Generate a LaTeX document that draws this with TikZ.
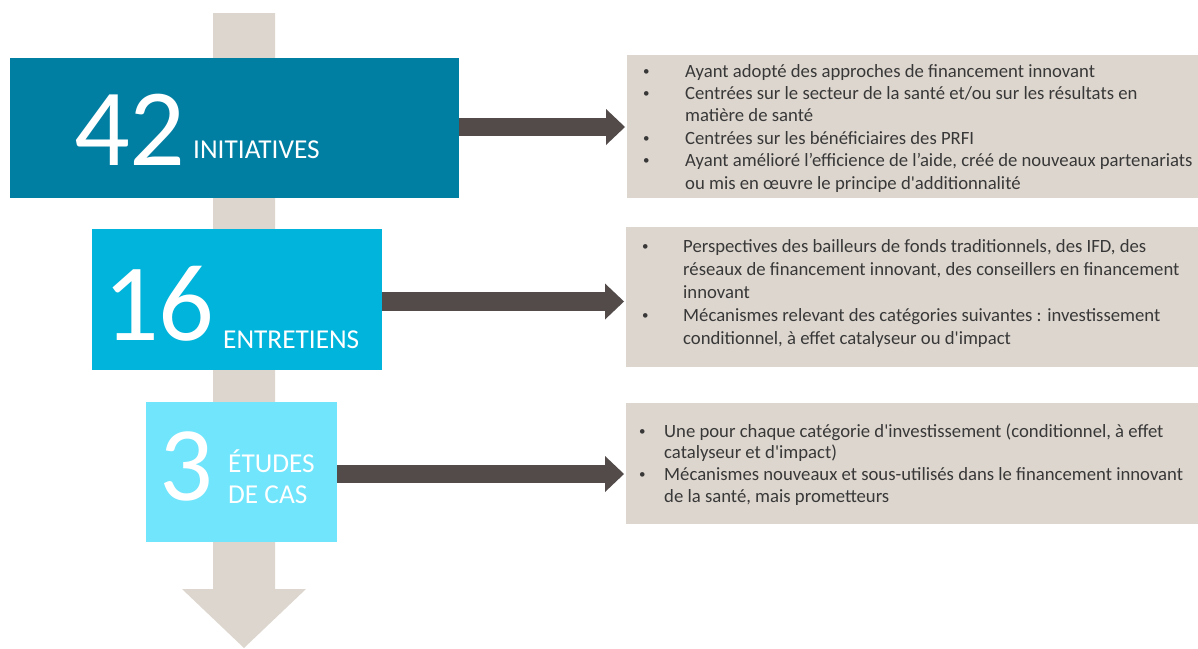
\documentclass[tikz,border=0pt]{standalone}
\usepackage{fontspec}
\setmainfont{Carlito}
\usetikzlibrary{arrows.meta}
\definecolor{tealA}{HTML}{007FA3}
\definecolor{tealB}{HTML}{00B4DB}
\definecolor{tealC}{HTML}{70E5FC}
\definecolor{sand}{HTML}{DDD6CE}
\definecolor{darrow}{HTML}{524B49}
\definecolor{txt}{HTML}{383838}
\newcommand{\dotmark}{\raisebox{1.8pt}{\fontsize{13}{13}\selectfont •}}
\begin{document}
\begin{tikzpicture}[x=1pt,y=-1pt,
  stage/.style={inner sep=0pt, outer sep=0pt, anchor=north west},
  infobox/.style={fill=sand, inner sep=0pt, outer sep=0pt, anchor=north west},
  bignum/.style={text=white, inner sep=0pt, anchor=base west, font=\fontsize{110}{110}\selectfont},
  caplabel/.style={text=white, inner sep=0pt, anchor=base west, font=\fontsize{27.3}{31}\selectfont, align=left},
  bullets/.style={text=txt, inner sep=0pt, anchor=base west},
  link/.style={draw=darrow, line width=18.5pt, -{Triangle[length=19pt,width=36pt,line width=0pt]}, shorten >=2pt}
]
\useasboundingbox (0,0) rectangle (1198,648);
% big background arrow
\fill[sand] (213,13) -- (275,13) -- (275,589) -- (306,589) -- (244,648) -- (182,589) -- (213,589) -- cycle;
% stage boxes
\node[stage, fill=tealA, minimum width=449pt, minimum height=140pt] (box1) at (10,58) {};
\node[stage, fill=tealB, minimum width=290pt, minimum height=141pt] (box2) at (92,229) {};
\node[stage, fill=tealC, minimum width=191pt, minimum height=140pt] (box3) at (146,402) {};
% numbers and labels
\node[bignum] (n1) at (74,165) {42};
\node[caplabel] (l1) at (193,158) {INITIATIVES};
\node[bignum] (n2) at (103,340) {16};
\node[caplabel] (l2) at (223,348) {ENTRETIENS};
\node[bignum, font=\fontsize{106}{106}\selectfont] (n3) at (159,500) {3};
\node[caplabel] (l3) at (228,503) {ÉTUDES\\DE CAS};
% info boxes
\node[infobox, minimum width=571pt, minimum height=143pt] (infoA) at (627,55) {};
\node[infobox, minimum width=572pt, minimum height=140pt] (infoB) at (626,227) {};
\node[infobox, minimum width=572pt, minimum height=121pt] (infoC) at (626,403) {};
% texts
\node[bullets] (tA) at (643,77) {\fontsize{18.7}{22.4}\selectfont
\begin{tabular}[t]{@{}p{42pt}@{}l@{}}
\dotmark& Ayant adopté des approches de financement innovant\\
\dotmark& Centrées sur le secteur de la santé et/ou sur les résultats en\\
 & matière de santé\\
\dotmark& Centrées sur les bénéficiaires des PRFI\\
\dotmark& Ayant amélioré l’efficience de l’aide, créé de nouveaux partenariats\\
 & ou mis en œuvre le principe d\textquotesingle additionnalité
\end{tabular}};
\node[bullets] (tB) at (642,252) {\fontsize{18.7}{23}\selectfont
\begin{tabular}[t]{@{}p{41pt}@{}l@{}}
\dotmark& Perspectives des bailleurs de fonds traditionnels, des IFD, des\\
 & réseaux de financement innovant, des conseillers en financement\\
 & innovant\\
\dotmark& Mécanismes relevant des catégories suivantes : investissement\\
 & conditionnel, à effet catalyseur ou d\textquotesingle impact
\end{tabular}};
\node[bullets] (tC) at (639,437) {\fontsize{18.7}{21.7}\selectfont
\begin{tabular}[t]{@{}p{25pt}@{}l@{}}
\dotmark& Une pour chaque catégorie d\textquotesingle investissement (conditionnel, à effet\\
 & catalyseur et d\textquotesingle impact)\\
\dotmark& Mécanismes nouveaux et sous-utilisés dans le financement innovant\\
 & de la santé, mais prometteurs
\end{tabular}};
% connectors
\draw[link] ([yshift=1pt]box1.east) -- ([yshift=1pt]box1.east -| infoA.west);
\draw[link] ([yshift=-2pt]box2.east) -- ([yshift=-2pt]box2.east -| infoB.west);
\draw[link] ([yshift=-2pt]box3.east) -- ([yshift=-2pt]box3.east -| infoC.west);
\end{tikzpicture}
\end{document}
